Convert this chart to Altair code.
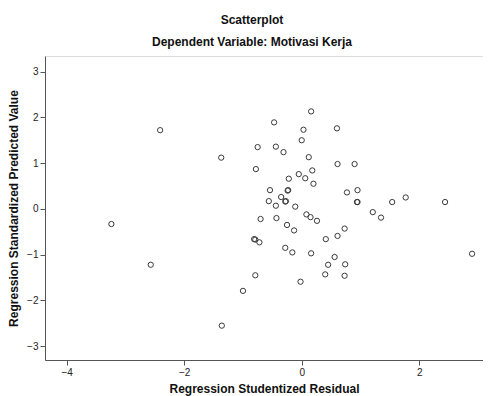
import altair as alt
import pandas as pd

residual = [-2.41, -1.37, -0.75, -0.78, -0.54, -0.56, 0.16, -0.47, 0.03, 0.60,
            0.00, -0.44, -0.31, 0.12, 0.61, 0.90, 0.18, -0.22, -0.05, 0.06,
            0.20, -0.23, -0.24, 0.77, 0.95, -0.44, -0.35, -0.27, -0.28, -0.11,
            0.95, 0.94, 1.54, 1.77, 2.44, -0.70, -0.43, 0.08, 0.15, 0.26,
            1.21, 1.35, -0.25, -0.13, 0.73, 0.61, 0.41, -0.81, -0.79, -0.72,
            -0.28, -0.16, 0.16, 0.56, 0.45, 0.74, 0.40, 0.73, -0.02, -0.79,
            -1.00, 2.90, -3.24, -2.57, -1.36]
predicted = [1.72, 1.12, 1.35, 0.87, 0.41, 0.17, 2.13, 1.89, 1.73, 1.76,
             1.50, 1.36, 1.24, 1.13, 0.98, 0.98, 0.84, 0.66, 0.76, 0.67,
             0.55, 0.41, 0.40, 0.36, 0.41, 0.07, 0.26, 0.17, 0.16, 0.05,
             0.15, 0.15, 0.15, 0.25, 0.15, -0.22, -0.20, -0.12, -0.18, -0.26,
             -0.07, -0.19, -0.35, -0.47, -0.43, -0.59, -0.66, -0.66, -0.67, -0.73,
             -0.85, -0.95, -0.97, -1.05, -1.22, -1.21, -1.43, -1.46, -1.59, -1.45,
             -1.79, -0.98, -0.33, -1.22, -2.55]

x_ticks = [-4, -2, 0, 2]
y_ticks = [-3, -2, -1, 0, 1, 2, 3]

df = pd.DataFrame({"res": residual, "pred": predicted})

FONT = "Liberation Sans"

chart = alt.Chart(df).mark_point(
    shape="circle", filled=False, size=28, stroke="#3a3a3a", strokeWidth=1, opacity=1
).encode(
    x=alt.X("res:Q", scale=alt.Scale(domain=[-4.37, 3.086], nice=False, zero=False),
            axis=alt.Axis(title="Regression Studentized Residual", values=x_ticks,
                          grid=False, tickSize=5, labelFontSize=10, labelColor="#222",
                          titleFontSize=12, titleFontWeight="bold", titleColor="#111",
                          titlePadding=6, domainColor="#555", tickColor="#555",
                          labelFont=FONT, titleFont=FONT, labelPadding=2)),
    y=alt.Y("pred:Q", scale=alt.Scale(domain=[-3.30, 3.34], nice=False, zero=False),
            axis=alt.Axis(title="Regression Standardized Predicted Value", values=y_ticks,
                          grid=False, tickSize=5, labelFontSize=10, labelColor="#222",
                          titleFontSize=12, titleFontWeight="bold", titleColor="#111",
                          titlePadding=6, domainColor="#555", tickColor="#555",
                          labelFont=FONT, titleFont=FONT, labelPadding=2)),
).properties(
    width=438,
    height=304,
    autosize=alt.AutoSizeParams(type="none"),
    padding={"left": 37, "top": 48, "right": 0, "bottom": 36},
    title=alt.TitleParams(
        text="Scatterplot",
        subtitle="Dependent Variable: Motivasi Kerja",
        fontSize=12, fontWeight="bold", font=FONT, color="#111",
        subtitleFontSize=12, subtitleFontWeight="bold", subtitleFont=FONT, subtitleColor="#111",
        subtitlePadding=10, offset=7, anchor="middle", frame="group", dx=-12,
    ),
).configure_view(
    fill="#f0f0f0", stroke="#888", strokeWidth=1
).configure(background="white")

chart.save("out.html", embed_options={"renderer": "svg", "actions": False})
